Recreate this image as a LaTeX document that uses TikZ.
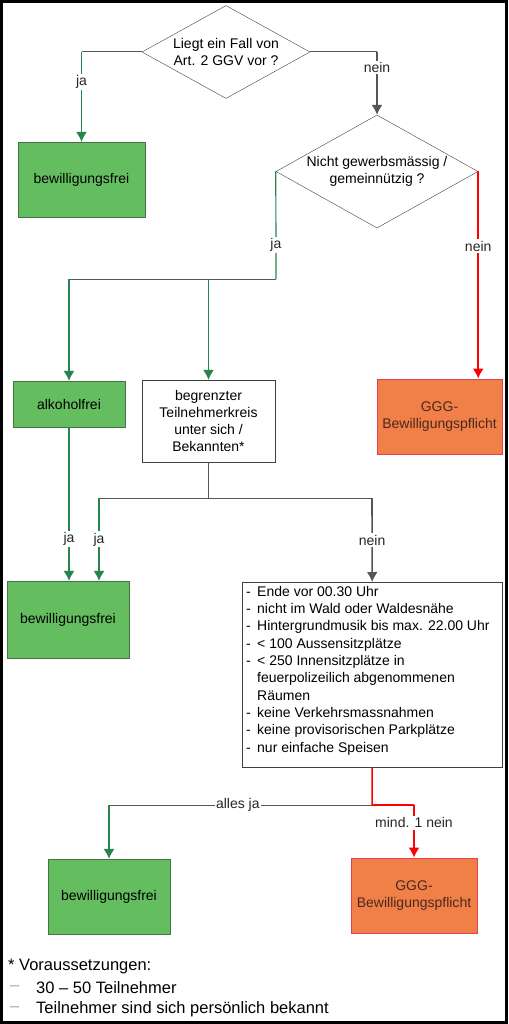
\documentclass[tikz,border=0pt]{standalone}
\usepackage{fontspec}
\setmainfont{Liberation Sans}
\usepackage{xcolor}
\usetikzlibrary{shapes.geometric,arrows.meta,calc}
\definecolor{boxgruen}{RGB}{100,190,96}
\definecolor{randgruen}{RGB}{70,115,70}
\definecolor{pfeilgruen}{RGB}{38,132,76}
\definecolor{boxorange}{RGB}{240,128,72}
\definecolor{randrot}{RGB}{228,64,84}
\definecolor{textbraun}{RGB}{75,40,30}
\definecolor{liniegrau}{RGB}{85,85,85}
\tikzset{>={Latex[length=10pt,width=11pt]}}
\tikzset{
	frage/.style={diamond, draw=black!75, aspect=1.8, inner sep=-2pt, align=center},
	frei/.style={rectangle, draw=randgruen, fill=boxgruen, align=center, inner sep=0pt},
	pflicht/.style={rectangle, draw=randrot, line width=1pt, fill=boxorange, text=textbraun, align=center, inner sep=0pt},
	weiss/.style={rectangle, draw=black!75, fill=white, align=center, inner sep=0pt},
	grau/.style={draw=liniegrau, line width=1pt},
	ja/.style={draw=pfeilgruen, line width=1.2pt},
	nein/.style={draw=liniegrau, line width=1.6pt},
	rot/.style={draw=red, line width=1.5pt},
	lab/.style={fill=white, inner sep=1.5pt, text=black!85},
	fuss/.style={anchor=west, inner sep=0pt, font=\fontsize{16.5}{20}\selectfont}
}

\begin{document}
\begin{tikzpicture}[x=1pt,y=-1pt,font=\fontsize{14}{17}\selectfont]
	\useasboundingbox (0,0) rectangle (508,1024);
	\draw[line width=3pt] (1.5,1.5) rectangle (506.5,1022.5); %Rahmen

	% Knoten
	\node[frage, minimum width=168pt, minimum height=93pt] (frage1) at (226,52) {Liegt ein Fall von\\Art. 2 GGV vor ?};
	\node[frei, minimum width=127pt, minimum height=75pt] (frei1) at (81.5,179.5) {bewilligungsfrei};
	\node[frage, minimum width=202pt, minimum height=113pt] (frage2) at (377,171.5) {Nicht gewerbsmässig /\\gemeinnützig ?};
	\node[frei, minimum width=112pt, minimum height=46pt] (alkfrei) at (69,404) {alkoholfrei};
	\node[weiss, minimum width=133pt, minimum height=82pt] (kreis) at (208.5,421) {begrenzter\\Teilnehmerkreis\\unter sich /\\Bekannten*};
	\node[pflicht, minimum width=125pt, minimum height=75pt] (pflicht1) at (439.5,416.5) {GGG-\\Bewilligungspflicht};
	\node[frei, minimum width=122pt, minimum height=77pt] (frei2) at (68,619.5) {bewilligungsfrei};
	\node[weiss, anchor=north west, inner sep=4pt, align=left] (bed) at (242,582) {\parbox[c][177pt][t]{252pt}{\fontsize{14}{17.3}\selectfont\raggedright
		\makebox[11pt][l]{-}Ende vor 00.30 Uhr\\
		\makebox[11pt][l]{-}nicht im Wald oder Waldesnähe\\
		\makebox[11pt][l]{-}Hintergrundmusik bis max. 22.00 Uhr\\
		\makebox[11pt][l]{-}< 100 Aussensitzplätze\\
		\makebox[11pt][l]{-}< 250 Innensitzplätze in\\
		\hspace*{11pt}feuerpolizeilich abgenommenen\\
		\hspace*{11pt}Räumen\\
		\makebox[11pt][l]{-}keine Verkehrsmassnahmen\\
		\makebox[11pt][l]{-}keine provisorischen Parkplätze\\
		\makebox[11pt][l]{-}nur einfache Speisen}};
	\node[frei, minimum width=122pt, minimum height=75pt] (frei3) at (109,896.5) {bewilligungsfrei};
	\node[pflicht, minimum width=126pt, minimum height=75pt] (pflicht2) at (414,895.5) {GGG-\\Bewilligungspflicht};

	% Knickpunkte
	\coordinate (k1) at (81.5,52);   %ja oben
	\coordinate (k2) at (377,52);    %nein oben
	\coordinate (k3) at (276,279);   %ja Mitte
	\coordinate (k4) at (69,279);    %zu alkoholfrei
	\coordinate (k5) at (208.5,279); %zu Teilnehmerkreis
	\coordinate (k6) at (208.5,498); %unter Teilnehmerkreis
	\coordinate (k7) at (99,498);    %ja unten
	\coordinate (k8) at (372,498);   %nein unten
	\coordinate (k9) at (372,805);   %unter Voraussetzungen
	\coordinate (k10) at (109,805);  %alles ja
	\coordinate (k11) at (414,805);  %mind. 1 nein

	% Verbindungen
	\draw[grau] (frage1.west) -- (k1);
	\draw[ja,->] (k1) -- node[lab,pos=0.33]{ja} (frei1.north);
	\draw[grau] (frage1.east) -- (k2);
	\draw[nein,->] (k2) -- node[lab,pos=0.25]{nein} (frage2.north);
	\draw[ja] (frage2.west) -- node[lab,pos=0.68]{ja} (k3);
	\draw[grau] (k3) -- (k4);
	\draw[ja,->] (k4) -- (alkfrei.north);
	\draw[ja,->] (k5) -- (kreis.north);
	\draw[rot,->] (frage2.east) -- node[lab,pos=0.36]{nein} (frage2.east |- pflicht1.north);
	\draw[ja,->] (alkfrei.south) -- node[lab,pos=0.73]{ja} (alkfrei.south |- frei2.north);
	\draw[grau] (kreis.south) -- (k6);
	\draw[grau] (k7) -- (k8);
	\draw[ja,->] (k7) -- node[lab,pos=0.5]{ja} (k7 |- frei2.north);
	\draw[nein,->] (k8) -- node[lab,pos=0.5]{nein} (bed.north);
	\draw[rot] (bed.south) -- (k9);
	\draw[grau] (k9) -- node[lab,pos=0.51]{alles ja} (k10);
	\draw[ja,->] (k10) -- (frei3.north);
	\draw[rot] (k9) -- (k11);
	\draw[rot,->] (k11) -- node[lab,pos=0.34]{mind. 1 nein} (pflicht2.north);

	% Fussnote
	\node[fuss] (fn0) at (8,967) {* Voraussetzungen:};
	\node[fuss, text=black!35] (fn1s) at (10,988) {–};
	\node[fuss] (fn1) at (36,988) {30 – 50 Teilnehmer};
	\node[fuss, text=black!35] (fn2s) at (10,1009) {–};
	\node[fuss] (fn2) at (36,1009) {Teilnehmer sind sich persönlich bekannt};
\end{tikzpicture}
\end{document}
